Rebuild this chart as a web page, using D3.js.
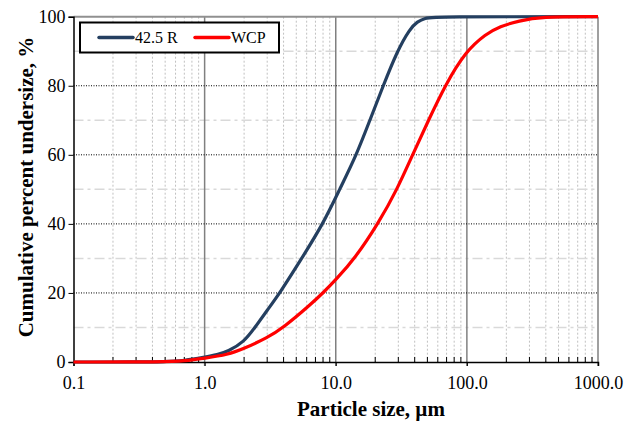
<!DOCTYPE html>
<html>
<head>
<meta charset="utf-8">
<script src="https://cdn.jsdelivr.net/npm/d3@7"></script>
<style>
  body { margin: 0; background: #fff; }
  text { font-family: "Liberation Serif", "Times New Roman", serif; fill: #000; }
</style>
</head>
<body>
<svg id="chart" width="638" height="424"></svg>
<script>
// ── Data ─────────────────────────────────────────────────────────────────────
const seriesNames = ["42.5 R", "WCP"];
const seriesColors = ["#243f60", "#ff0000"];

const sizesR = [0.1, 0.3, 0.5, 0.7, 1.0, 1.25, 1.5, 2.0, 2.42, 3.0, 3.75, 5.5, 8.0, 10.7, 14.4, 18.2, 23, 29.4, 36.7, 42, 48, 56, 1000];
const valuesR = [0, 0, 0.1, 0.4, 1.4, 2.1, 3.0, 5.8, 10, 15, 20, 30, 40, 50, 60, 70, 80, 90, 96.5, 98.6, 99.6, 100, 100];

const sizesW = [0.1, 0.5, 0.7, 1.0, 1.5, 2.0, 3.0, 4.0, 6.36, 8.0, 10, 14.0, 21, 29.4, 38.5, 51, 68, 98, 140, 178, 251, 360, 1000];
const valuesW = [0, 0, 0.3, 1.1, 2.1, 3.9, 7.0, 10, 16.5, 20, 23.8, 30, 40, 50, 60, 70, 80, 90, 95, 97.2, 98.8, 100, 100];

const xMajor = [0.1, 1, 10, 100, 1000];
const xTickLabels = ["0.1", "1.0", "10.0", "100.0", "1000.0"];
const yMajor = [0, 20, 40, 60, 80, 100];
const yMinor = [10, 30, 50, 70, 90];

// ── Setup ────────────────────────────────────────────────────────────────────
const svg = d3.select('#chart');
const m = { left: 73.5, right: 598, top: 16.7, bottom: 362 };

const x = d3.scaleLog().domain([0.1, 1000]).range([m.left, m.right]);
const y = d3.scaleLinear().domain([0, 100]).range([m.bottom, m.top]);

const xMinor = [];
for (let d = 0.1; d < 1000; d *= 10)
	for (let k = 2; k <= 9; k++) xMinor.push(d * k);

// ── Grid ─────────────────────────────────────────────────────────────────────
const grid = svg.append('g');

grid.selectAll('.vminor').data(xMinor).enter().append('line')
	.attr('x1', d => x(d)).attr('x2', d => x(d))
	.attr('y1', m.top).attr('y2', m.bottom)
	.attr('stroke', '#c0c0c0').attr('stroke-width', 1)
	.attr('stroke-dasharray', '2,2');

grid.selectAll('.hminor').data(yMinor).enter().append('line')
	.attr('x1', m.left).attr('x2', m.right)
	.attr('y1', d => y(d)).attr('y2', d => y(d))
	.attr('stroke', '#d9d9d9').attr('stroke-width', 1.5)
	.attr('stroke-dasharray', '10,4,3,4');

grid.selectAll('.vmajor').data(xMajor.slice(1, 4)).enter().append('line')
	.attr('x1', d => x(d)).attr('x2', d => x(d))
	.attr('y1', m.top).attr('y2', m.bottom + 4)
	.attr('stroke', '#808080').attr('stroke-width', 1.5);

grid.selectAll('.hmajor').data(yMajor.slice(1, 5)).enter().append('line')
	.attr('x1', m.left).attr('x2', m.right)
	.attr('y1', d => y(d)).attr('y2', d => y(d))
	.attr('stroke', '#000').attr('stroke-width', 1)
	.attr('stroke-dasharray', '1,1.5');

// top / right border
grid.append('line')
	.attr('x1', m.left).attr('x2', m.right).attr('y1', m.top).attr('y2', m.top)
	.attr('stroke', '#909090').attr('stroke-width', 2);
grid.append('line')
	.attr('x1', m.right).attr('x2', m.right).attr('y1', m.top).attr('y2', m.bottom + 4)
	.attr('stroke', '#808080').attr('stroke-width', 1.5);

// ── Axes ─────────────────────────────────────────────────────────────────────
const xAxis = svg.append('g').attr('transform', `translate(0,${m.bottom})`)
	.call(d3.axisBottom(x).tickValues(xMajor).tickFormat((d, i) => xTickLabels[i])
		.tickSize(4).tickPadding(10));
xAxis.select('.domain').attr('stroke', '#000').attr('stroke-width', 1.5);
xAxis.selectAll('.tick line').attr('stroke', '#000').attr('stroke-width', 1);
xAxis.selectAll('text').style('font-size', '18px').style('font-family', '"Liberation Serif", serif');

// minor inner ticks
svg.append('g').selectAll('line').data(xMinor).enter().append('line')
	.attr('x1', d => x(d)).attr('x2', d => x(d))
	.attr('y1', m.bottom).attr('y2', m.bottom - 5)
	.attr('stroke', '#000').attr('stroke-width', 1);

const yAxis = svg.append('g').attr('transform', `translate(${m.left},0)`)
	.call(d3.axisLeft(y).tickValues(yMajor).tickFormat(d3.format('d'))
		.tickSize(5).tickPadding(3));
yAxis.select('.domain').attr('stroke', '#000').attr('stroke-width', 1.5);
yAxis.selectAll('.tick line').attr('stroke', '#000').attr('stroke-width', 1);
yAxis.selectAll('text').style('font-size', '18px').style('font-family', '"Liberation Serif", serif');

// ── Curves ───────────────────────────────────────────────────────────────────
const line = d3.line()
	.x(d => x(d[0]))
	.y(d => y(d[1]))
	.curve(d3.curveBasis);

const series = [
	d3.zip(sizesR, valuesR),
	d3.zip(sizesW, valuesW)
];

svg.append('g').selectAll('path').data(series).enter().append('path')
	.attr('d', line)
	.attr('fill', 'none')
	.attr('stroke', (d, i) => seriesColors[i])
	.attr('stroke-width', 3.2)
	.attr('stroke-linejoin', 'round');

// ── Legend ───────────────────────────────────────────────────────────────────
const legend = svg.append('g');
legend.append('rect')
	.attr('x', 80).attr('y', 22.5).attr('width', 199).attr('height', 30)
	.attr('fill', '#fff').attr('stroke', '#000').attr('stroke-width', 2);

const legX = [99, 195];
seriesNames.forEach((name, i) => {
	legend.append('line')
		.attr('x1', legX[i]).attr('x2', legX[i] + 34)
		.attr('y1', 37.5).attr('y2', 37.5)
		.attr('stroke', seriesColors[i]).attr('stroke-width', 3.5)
		.attr('stroke-linecap', 'round');
	legend.append('text')
		.attr('x', legX[i] + 36).attr('y', 43)
		.style('font-size', '16px')
		.text(name);
});

// ── Titles ───────────────────────────────────────────────────────────────────
svg.append('text')
	.attr('x', 371).attr('y', 416)
	.attr('text-anchor', 'middle')
	.style('font-size', '21px').style('font-weight', 'bold')
	.text('Particle size, µm');

svg.append('text')
	.attr('transform', 'translate(33,187) rotate(-90)')
	.attr('text-anchor', 'middle')
	.style('font-size', '21px').style('font-weight', 'bold')
	.text('Cumulative percent undersize, %');
</script>
</body>
</html>
